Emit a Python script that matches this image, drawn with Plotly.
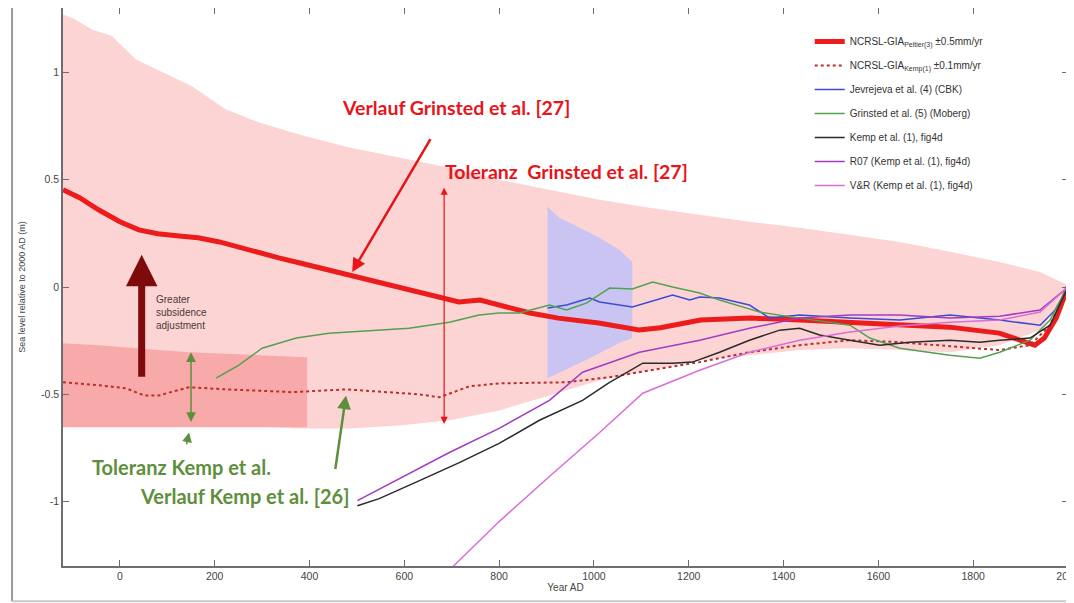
import plotly.graph_objects as go

# ---------------- data ----------------
grin_band_years = [-120, -97, -59, -17, 34, 82, 152, 224, 294, 378, 484, 589, 695, 800, 906, 1012,
                   1117, 1223, 1328, 1434, 1540, 1645, 1751, 1856, 1941, 2000]
grin_band_upper = [1.27, 1.25, 1.20, 1.17, 1.06, 1.01, 0.935, 0.827, 0.766, 0.71, 0.65, 0.603, 0.556,
                   0.50, 0.453, 0.407, 0.369, 0.336, 0.304, 0.276, 0.243, 0.21, 0.164, 0.117, 0.07, 0.009]
grin_band_lower = [-0.645, -0.645, -0.640, -0.636, -0.636, -0.636, -0.640, -0.645, -0.650, -0.659, -0.659,
                   -0.645, -0.621, -0.575, -0.505, -0.435, -0.388, -0.341, -0.318, -0.294, -0.285,
                   -0.294, -0.304, -0.271, -0.201, -0.023]

kemp_band_years = [-120, -44, 82, 146, 395]
kemp_band_upper = [-0.262, -0.271, -0.294, -0.304, -0.327]
kemp_band_lower = [-0.654, -0.654, -0.654, -0.654, -0.654]

jev_band_years = [902, 927, 948, 969, 991, 1012, 1033, 1054, 1081]
jev_band_upper = [0.374, 0.322, 0.30, 0.276, 0.25, 0.229, 0.20, 0.173, 0.117]
jev_band_lower = [-0.425, -0.40, -0.379, -0.355, -0.332, -0.31, -0.285, -0.26, -0.238]

peltier_years = [-120, -85, -45, 0, 40, 80, 125, 165, 210, 270, 335, 380, 440, 495, 545, 590, 630, 675,
                 715, 760, 800, 865, 925, 1010, 1095, 1140, 1225, 1330, 1435, 1540, 1645, 1750, 1855,
                 1900, 1930, 1950, 1975, 2000]
peltier_vals = [0.453, 0.416, 0.36, 0.304, 0.266, 0.248, 0.238, 0.229, 0.21, 0.173, 0.136, 0.112, 0.079,
                0.047, 0.023, 0.0, -0.023, -0.051, -0.07, -0.061, -0.084, -0.121, -0.145, -0.168, -0.2,
                -0.19, -0.154, -0.145, -0.154, -0.164, -0.173, -0.187, -0.215, -0.248, -0.271, -0.238,
                -0.145, 0.0]

kemp_gia_years = [-120, -44, 13, 51, 82, 146, 224, 363, 477, 574, 631, 674, 737, 800, 942, 1033, 1145,
                  1223, 1328, 1434, 1540, 1645, 1751, 1856, 1920, 1962, 2000]
kemp_gia_vals = [-0.444, -0.458, -0.472, -0.505, -0.505, -0.467, -0.477, -0.49, -0.477, -0.49, -0.50,
                 -0.514, -0.463, -0.449, -0.444, -0.42, -0.379, -0.35, -0.304, -0.271, -0.248, -0.257,
                 -0.276, -0.294, -0.271, -0.178, 0.0]

jev_years = [902, 942, 991, 1012, 1081, 1166, 1202, 1223, 1265, 1328, 1371, 1434, 1540, 1645, 1751,
             1856, 1941, 1973, 2000]
jev_vals = [-0.098, -0.084, -0.051, -0.07, -0.093, -0.037, -0.061, -0.047, -0.051, -0.084, -0.145,
            -0.131, -0.145, -0.154, -0.131, -0.154, -0.178, -0.107, 0.0]

grin_years = [203, 251, 300, 372, 441, 505, 610, 695, 758, 800, 843, 906, 942, 984, 1033, 1081, 1124,
              1166, 1223, 1265, 1350, 1434, 1540, 1582, 1645, 1751, 1814, 1856, 1920, 1962, 2000]
grin_vals = [-0.425, -0.364, -0.285, -0.238, -0.215, -0.206, -0.192, -0.164, -0.131, -0.121, -0.121,
             -0.084, -0.107, -0.075, -0.005, -0.009, 0.023, 0.0, -0.028, -0.061, -0.117, -0.145,
             -0.178, -0.238, -0.285, -0.318, -0.332, -0.304, -0.248, -0.154, 0.0]

kemp_years = [501, 547, 632, 716, 800, 885, 976, 1033, 1103, 1166, 1208, 1265, 1328, 1392, 1434, 1476,
              1540, 1603, 1666, 1751, 1814, 1856, 1920, 1962, 2000]
kemp_vals = [-1.019, -0.986, -0.902, -0.818, -0.729, -0.621, -0.528, -0.444, -0.355, -0.355, -0.35,
             -0.304, -0.248, -0.201, -0.192, -0.224, -0.248, -0.271, -0.257, -0.248, -0.257, -0.248,
             -0.238, -0.178, 0.0]

r07_years = [501, 589, 695, 800, 906, 976, 1096, 1223, 1328, 1434, 1540, 1645, 1751, 1856, 1941, 2000]
r07_vals = [-0.995, -0.893, -0.771, -0.659, -0.528, -0.397, -0.304, -0.248, -0.192, -0.145, -0.131,
            -0.131, -0.145, -0.136, -0.107, 0.0]

vr_years = [690, 800, 906, 1012, 1103, 1223, 1328, 1434, 1540, 1645, 1751, 1856, 1941, 2000]
vr_vals = [-1.33, -1.093, -0.883, -0.678, -0.495, -0.388, -0.304, -0.248, -0.21, -0.182, -0.164,
           -0.154, -0.117, 0.0]

x_ticks = [0, 200, 400, 600, 800, 1000, 1200, 1400, 1600, 1800, 2000]
y_ticks = [-1, -0.5, 0, 0.5, 1]
y_tick_labels = ["-1", "-0.5", "0", "0.5", "1"]

# ---------------- figure ----------------
fig = go.Figure()


def band(xs, up, lo, color):
    fig.add_trace(go.Scatter(x=xs + xs[::-1], y=up + lo[::-1], fill="toself", fillcolor=color,
                             line=dict(width=0), mode="lines", hoverinfo="skip", showlegend=False))


band(grin_band_years, grin_band_upper, grin_band_lower, "#fdd4d4")
band(kemp_band_years, kemp_band_upper, kemp_band_lower, "#f8a9a9")
band(jev_band_years, jev_band_upper, jev_band_lower, "#c9c4f2")

series = [
    ("NCRSL-GIA<sub>Peltier(3)</sub> ±0.5mm/yr", peltier_years, peltier_vals, dict(color="#ec1c1c", width=5)),
    ("NCRSL-GIA<sub>Kemp(1)</sub> ±0.1mm/yr", kemp_gia_years, kemp_gia_vals, dict(color="#b8302c", width=2, dash="dot")),
    ("Jevrejeva et al. (4) (CBK)", jev_years, jev_vals, dict(color="#3c4bd6", width=1.5)),
    ("Grinsted et al. (5) (Moberg)", grin_years, grin_vals, dict(color="#52a052", width=1.5)),
    ("Kemp et al. (1), fig4d", kemp_years, kemp_vals, dict(color="#2a2a2a", width=1.5)),
    ("R07 (Kemp et al. (1), fig4d)", r07_years, r07_vals, dict(color="#a23cc2", width=1.5)),
    ("V&R (Kemp et al. (1), fig4d)", vr_years, vr_vals, dict(color="#d86ed8", width=1.5)),
]
for idx, (name, xs, ys, ln) in enumerate(series):
    fig.add_trace(go.Scatter(x=xs, y=ys, mode="lines", name=name, line=ln,
                             legendgroup=f"g{idx}", legendrank=idx + 1))

red = "#e8141b"
green = "#5e8f3c"
lab_font = "Lato, Open Sans, sans-serif"
ann = [
    dict(x=710, y=0.836, text="<b>Verlauf Grinsted et al. [27]</b>", showarrow=False,
         font=dict(family=lab_font, size=19.5, color=red)),
    dict(x=942, y=0.537, text="<b>Toleranz  Grinsted et al. [27]</b>", showarrow=False,
         font=dict(family=lab_font, size=19.5, color=red)),
    dict(x=131, y=-0.841, text="<b>Toleranz Kemp et al.</b>", showarrow=False,
         font=dict(family=lab_font, size=20, color=green)),
    dict(x=262, y=-0.972, text="<b>Verlauf Kemp et al. [26]</b>", showarrow=False,
         font=dict(family=lab_font, size=20, color=green)),
    dict(x=72, y=-0.12, text="Greater<br>subsidence<br>adjustment", showarrow=False, xanchor="left",
         align="left", font=dict(family="Liberation Sans, Arial, sans-serif", size=10, color="#4a3a3a")),
    # arrows
    dict(x=490, y=0.07, ax=657, ay=0.696, axref="x", ayref="y", text="", showarrow=True,
         arrowhead=2, arrowsize=1.1, arrowwidth=2.5, arrowcolor=red),
    dict(x=684, y=0.463, ax=684, ay=-0.645, axref="x", ayref="y", text="", showarrow=True,
         arrowhead=2, arrowsize=1.2, arrowwidth=1.2, arrowcolor=red, arrowside="end+start"),
    dict(x=46, y=0.15, ax=46, ay=-0.425, axref="x", ayref="y", text="", showarrow=True,
         arrowhead=2, arrowsize=0.9, arrowwidth=7, arrowcolor="#7e0b0b"),
    dict(x=150, y=-0.304, ax=150, ay=-0.636, axref="x", ayref="y", text="", showarrow=True,
         arrowhead=2, arrowsize=1.3, arrowwidth=1.5, arrowcolor=green, arrowside="end+start"),
    dict(x=146, y=-0.678, ax=140, ay=-0.74, axref="x", ayref="y", text="", showarrow=True,
         arrowhead=2, arrowsize=1.3, arrowwidth=1.5, arrowcolor=green),
    dict(x=477, y=-0.505, ax=454, ay=-0.855, axref="x", ayref="y", text="", showarrow=True,
         arrowhead=2, arrowsize=1.1, arrowwidth=2.5, arrowcolor=green),
]

tick_font = dict(family="Liberation Sans, Arial, sans-serif", size=10.5, color="#444")
axis_common = dict(showgrid=False, zeroline=False, showline=True, linecolor="#6e6e6e", linewidth=1.5,
                   mirror="ticks", ticks="inside", ticklen=6, tickcolor="#6e6e6e",
                   tickfont=tick_font, automargin=False)

fig.update_layout(
    width=1074, height=603,
    margin=dict(l=55, r=14, t=0, b=45),
    paper_bgcolor="white", plot_bgcolor="white",
    xaxis=dict(range=[-120, 2000], tickvals=x_ticks, ticktext=[str(v) for v in x_ticks],
               title=dict(text="Year AD", standoff=2,
                          font=dict(family="Liberation Sans, Arial, sans-serif", size=10, color="#444")),
               **axis_common),
    yaxis=dict(range=[-1.3, 1.3], tickvals=y_ticks, ticktext=y_tick_labels,
               title=dict(text="Sea level relative to 2000 AD (m)", standoff=14,
                          font=dict(family="Liberation Sans, Arial, sans-serif", size=9, color="#444")),
               **axis_common),
    legend=dict(x=0.743, y=0.966, xanchor="left", yanchor="top", bgcolor="rgba(255,255,255,0.9)",
                font=dict(family="Liberation Sans, Arial, sans-serif", size=10, color="#333"),
                traceorder="grouped", tracegroupgap=5),
    annotations=ann,
    shapes=[
        dict(type="line", xref="paper", yref="paper", x0=-0.0507, x1=-0.0507, y0=-0.063, y1=1.004,
             line=dict(color="#9a9a9a", width=2)),
        dict(type="line", xref="paper", yref="paper", x0=-0.0507, x1=1.02, y0=-0.063, y1=-0.063,
             line=dict(color="#c8c8c8", width=2)),
    ],
)

fig.write_html("out.html")
